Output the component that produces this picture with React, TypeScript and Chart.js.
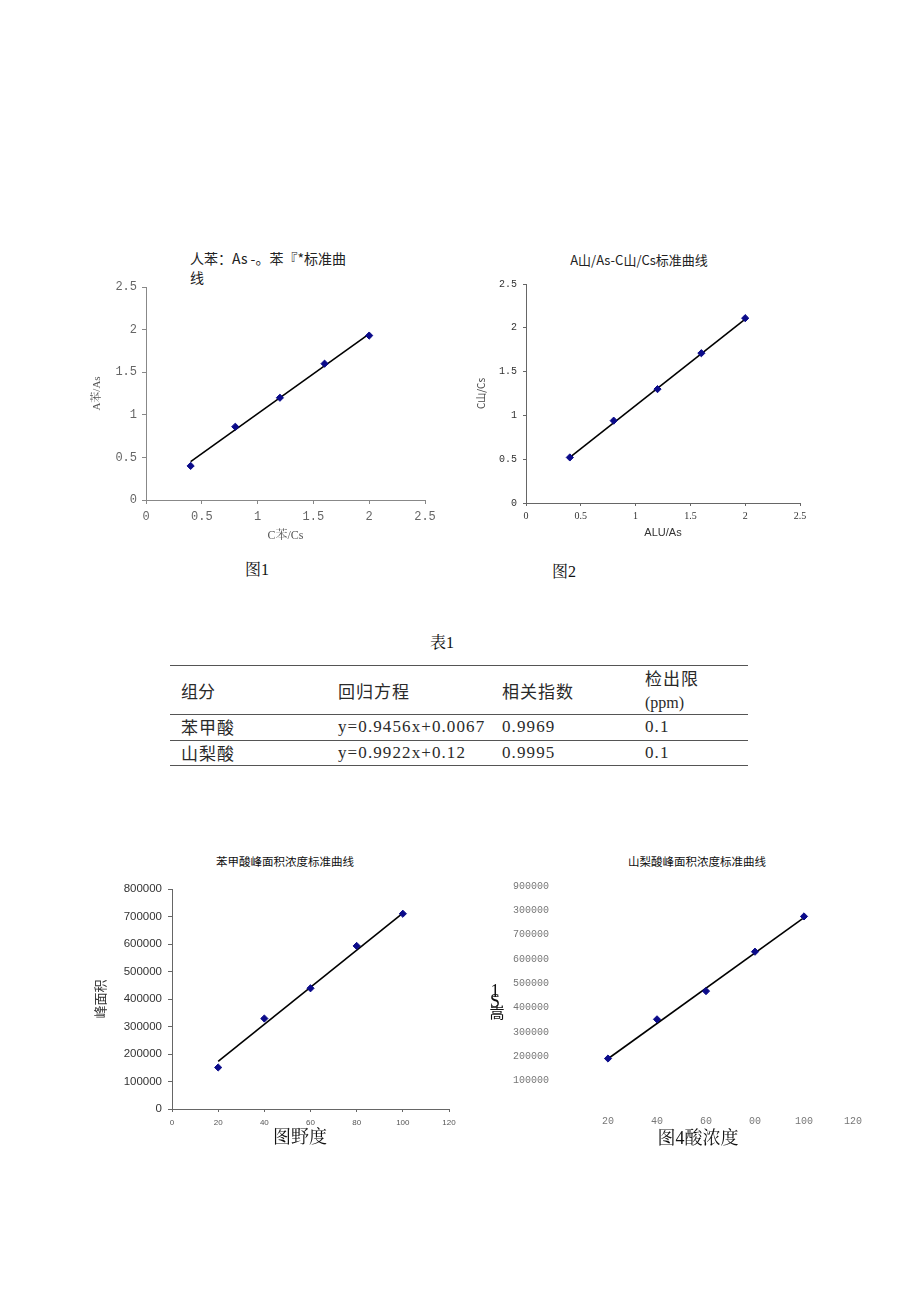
import React, { useEffect, useRef } from "react";
import { Chart, registerables } from "chart.js";

Chart.register(...registerables);

// ---------- Figure 1 (苯甲酸 内标) ----------
const fig1X = [0.4, 0.8, 1.2, 1.6, 2.0];
const fig1Y = [0.4, 0.86, 1.2, 1.6, 1.93];
const fig1FitX = [0.4, 2.0];
const fig1FitY = [0.45, 1.95];
const fig1XTicks = ["0", "0.5", "1", "1.5", "2", "2.5"];
const fig1YTicks = ["0", "0.5", "1", "1.5", "2", "2.5"];

// ---------- Figure 2 (山梨酸 内标) ----------
const fig2X = [0.4, 0.8, 1.2, 1.6, 2.0];
const fig2Y = [0.52, 0.94, 1.3, 1.71, 2.11];
const fig2FitX = [0.4, 2.0];
const fig2FitY = [0.52, 2.1];
const fig2XTicks = ["0", "0.5", "1", "1.5", "2", "2.5"];
const fig2YTicks = ["0", "0.5", "1", "1.5", "2", "2.5"];

// ---------- Figure 3 (苯甲酸 峰面积) ----------
const fig3X = [20, 40, 60, 80, 100];
const fig3Y = [151000, 329000, 439000, 593000, 710000];
const fig3FitX = [20, 100];
const fig3FitY = [173000, 712000];
const fig3XTicks = ["0", "20", "40", "60", "80", "100", "120"];
const fig3YTicks = ["0", "100000", "200000", "300000", "400000", "500000", "600000", "700000", "800000"];

// ---------- Figure 4 (山梨酸 峰面积) ----------
const fig4X = [20, 40, 60, 80, 100];
const fig4Y = [191000, 352000, 468000, 630000, 775000];
const fig4FitX = [20, 100];
const fig4FitY = [190000, 770000];
const fig4XTicks = ["", "20", "40", "60", "00", "100", "120"];
const fig4YTicks = ["", "100000", "200000", "300000", "400000", "500000", "600000", "700000", "300000", "900000"];

// ---------- Table 1 ----------
const tableHeader = ["组分", "回归方程", "相关指数", "检出限\n(ppm)"];
const tableRowNames = ["苯甲酸", "山梨酸"];
const tableEquations = ["y=0.9456x+0.0067", "y=0.9922x+0.12"];
const tableR = ["0.9969", "0.9995"];
const tableLimits = ["0.1", "0.1"];

const CJK_SANS = '"Noto Sans CJK SC", "Liberation Sans", sans-serif';
const SERIF = '"Liberation Serif", "Noto Serif CJK SC", "Noto Sans CJK SC", serif';

type AxisSpec = {
  min: number;
  max: number;
  step: number;
  labels: string[];
  family: string;
  size: number;
  color: string;
  line: boolean;
  lineColor: string;
  tickLen: number;
  pad: number;
  title?: string;
  titleFamily?: string;
  titleSize?: number;
  titleColor?: string;
  titlePad?: number;
};

type PanelProps = {
  left: number;
  top: number;
  width: number;
  height: number;
  padTop: number;
  padRight: number;
  yWidth: number;
  xHeight: number;
  xs: number[];
  ys: number[];
  fitX: number[];
  fitY: number[];
  xAxis: AxisSpec;
  yAxis: AxisSpec;
};

function axisOptions(a: AxisSpec, horizontal: boolean, size: number) {
  return {
    type: "linear" as const,
    position: horizontal ? ("bottom" as const) : ("left" as const),
    min: a.min,
    max: a.max,
    ticks: {
      stepSize: a.step,
      autoSkip: false,
      maxRotation: 0,
      minRotation: 0,
      padding: a.pad,
      color: a.color,
      font: { family: a.family, size: a.size },
      callback: (_v: any, i: number) => (a.labels[i] !== undefined ? a.labels[i] : ""),
    },
    grid: {
      display: a.line,
      drawOnChartArea: false,
      drawTicks: a.tickLen > 0,
      tickLength: a.tickLen,
      color: a.lineColor,
      lineWidth: 1,
    },
    border: { display: a.line, color: a.lineColor, width: 1 },
    title: a.title
      ? {
          display: true,
          text: a.title,
          color: a.titleColor || "#333",
          font: { family: a.titleFamily || CJK_SANS, size: a.titleSize || 11 },
          padding: { top: a.titlePad || 0, bottom: a.titlePad || 0 },
        }
      : { display: false },
    afterFit: (s: any) => {
      if (horizontal) s.height = size;
      else s.width = size;
    },
  };
}

function Panel(p: PanelProps) {
  const ref = useRef<HTMLCanvasElement | null>(null);
  useEffect(() => {
    if (!ref.current) return;
    const chart = new Chart(ref.current, {
      type: "scatter",
      data: {
        datasets: [
          {
            type: "line",
            data: p.fitX.map((v, i) => ({ x: v, y: p.fitY[i] })),
            borderColor: "#000000",
            borderWidth: 1.6,
            pointRadius: 0,
            fill: false,
            tension: 0,
            order: 2,
          } as any,
          {
            type: "scatter",
            data: p.xs.map((v, i) => ({ x: v, y: p.ys[i] })),
            pointStyle: "rectRot",
            pointRadius: 3.6,
            backgroundColor: "#0b0b8a",
            borderColor: "#0b0b8a",
            borderWidth: 1,
            order: 1,
          } as any,
        ],
      },
      options: {
        responsive: false,
        maintainAspectRatio: false,
        animation: false,
        layout: { padding: { left: 0, top: p.padTop, right: p.padRight, bottom: 0 } },
        plugins: { legend: { display: false }, tooltip: { enabled: false }, title: { display: false } },
        scales: {
          x: axisOptions(p.xAxis, true, p.xHeight) as any,
          y: axisOptions(p.yAxis, false, p.yWidth) as any,
        },
      },
    });
    return () => chart.destroy();
  }, []);
  return (
    <canvas
      ref={ref}
      width={p.width}
      height={p.height}
      style={{ position: "absolute", left: p.left, top: p.top, width: p.width, height: p.height }}
    />
  );
}

type LabelProps = {
  x: number;
  y: number;
  text: string;
  size: number;
  family?: string;
  color?: string;
  align?: "left" | "center";
  weight?: number;
  spacing?: number;
};

function Label({ x, y, text, size, family = SERIF, color = "#111", align = "left", weight = 400, spacing = 0 }: LabelProps) {
  return (
    <div
      style={{
        position: "absolute",
        left: x,
        top: y - size * 0.6,
        fontSize: size,
        lineHeight: 1.2,
        fontFamily: family,
        color,
        fontWeight: weight,
        letterSpacing: spacing,
        whiteSpace: "nowrap",
        transform: align === "center" ? "translateX(-50%)" : undefined,
      }}
    >
      {text}
    </div>
  );
}

function HLine({ y }: { y: number }) {
  return <div style={{ position: "absolute", left: 170, top: y, width: 578, height: 1, background: "#555" }} />;
}

export default function App() {
  const colX = [181, 338, 502, 645];
  const rowY = [727, 753];
  const tc = "#2a2a2a";
  return (
    <div style={{ position: "absolute", left: 0, top: 0, width: 920, height: 1302, background: "#fff", overflow: "hidden" }}>
      {/* Figure 1 */}
      <Label x={190} y={258} text="人苯：As -。苯『*标准曲" size={14} family={CJK_SANS} color="#222" />
      <Label x={190} y={277} text="线" size={14} family={CJK_SANS} color="#222" />
      <Panel
        left={85}
        top={270}
        width={360}
        height={278}
        padTop={17}
        padRight={20}
        yWidth={61}
        xHeight={48}
        xs={fig1X}
        ys={fig1Y}
        fitX={fig1FitX}
        fitY={fig1FitY}
        xAxis={{
          min: 0, max: 2.5, step: 0.5, labels: fig1XTicks,
          family: '"Liberation Mono", monospace', size: 12, color: "#666",
          line: true, lineColor: "#888", tickLen: 4, pad: 6,
          title: "C苯/Cs", titleFamily: SERIF, titleSize: 12, titleColor: "#555", titlePad: 4.8,
        }}
        yAxis={{
          min: 0, max: 2.5, step: 0.5, labels: fig1YTicks,
          family: '"Liberation Mono", monospace', size: 12, color: "#666",
          line: true, lineColor: "#888", tickLen: 4, pad: 5,
          title: "A苯/As", titleFamily: SERIF, titleSize: 11, titleColor: "#555", titlePad: 5.4,
        }}
      />
      <Label x={245} y={570} text="图1" size={16} />

      {/* Figure 2 */}
      <Label x={639} y={260} text="A山/As-C山/Cs标准曲线" size={13} family={CJK_SANS} color="#222" align="center" />
      <Panel
        left={470}
        top={265}
        width={350}
        height={278}
        padTop={19}
        padRight={20}
        yWidth={56}
        xHeight={40}
        xs={fig2X}
        ys={fig2Y}
        fitX={fig2FitX}
        fitY={fig2FitY}
        xAxis={{
          min: 0, max: 2.5, step: 0.5, labels: fig2XTicks,
          family: '"Liberation Serif", serif', size: 10, color: "#333",
          line: true, lineColor: "#666", tickLen: 3, pad: 4,
          title: "ALU/As", titleFamily: '"Liberation Sans", sans-serif', titleSize: 11, titleColor: "#333", titlePad: 3.4,
        }}
        yAxis={{
          min: 0, max: 2.5, step: 0.5, labels: fig2YTicks,
          family: '"Liberation Mono", monospace', size: 10, color: "#333",
          line: true, lineColor: "#666", tickLen: 3, pad: 6,
          title: "C山/Cs", titleFamily: CJK_SANS, titleSize: 10, titleColor: "#444", titlePad: 5,
        }}
      />
      <Label x={552} y={572} text="图2" size={16} />

      {/* Table 1 */}
      <Label x={442} y={643} text="表1" size={16} align="center" />
      <HLine y={665} />
      <Label x={colX[0]} y={691} text={tableHeader[0]} size={17} family={CJK_SANS} color={tc} />
      <Label x={colX[1]} y={691} text={tableHeader[1]} size={17} family={CJK_SANS} color={tc} spacing={1} />
      <Label x={colX[2]} y={691} text={tableHeader[2]} size={17} family={CJK_SANS} color={tc} spacing={1} />
      <Label x={colX[3]} y={678} text={tableHeader[3].split("\n")[0]} size={17} family={CJK_SANS} color={tc} spacing={1} />
      <Label x={colX[3]} y={703} text={tableHeader[3].split("\n")[1]} size={16} family={SERIF} color={tc} />
      <HLine y={714} />
      {tableRowNames.map((name, i) => (
        <React.Fragment key={name}>
          <Label x={colX[0]} y={rowY[i]} text={name} size={17} family={CJK_SANS} color={tc} spacing={1} />
          <Label x={colX[1]} y={rowY[i]} text={tableEquations[i]} size={17} color={tc} spacing={1.1} />
          <Label x={colX[2]} y={rowY[i]} text={tableR[i]} size={17} color={tc} spacing={1.1} />
          <Label x={colX[3]} y={rowY[i]} text={tableLimits[i]} size={17} color={tc} spacing={1.1} />
        </React.Fragment>
      ))}
      <HLine y={740} />
      <HLine y={765} />

      {/* Figure 3 */}
      <Label x={285} y={862} text="苯甲酸峰面积浓度标准曲线" size={11.5} family={CJK_SANS} color="#111" align="center" />
      <Panel
        left={85}
        top={870}
        width={385}
        height={281}
        padTop={19}
        padRight={21}
        yWidth={87}
        xHeight={42}
        xs={fig3X}
        ys={fig3Y}
        fitX={fig3FitX}
        fitY={fig3FitY}
        xAxis={{
          min: 0, max: 120, step: 20, labels: fig3XTicks,
          family: '"Liberation Sans", sans-serif', size: 8, color: "#555",
          line: true, lineColor: "#666", tickLen: 3, pad: 6,
        }}
        yAxis={{
          min: 0, max: 800000, step: 100000, labels: fig3YTicks,
          family: '"Liberation Sans", sans-serif', size: 11.5, color: "#333",
          line: true, lineColor: "#666", tickLen: 4, pad: 6,
          title: "峰面积", titleFamily: CJK_SANS, titleSize: 13, titleColor: "#333", titlePad: 7.2,
        }}
      />
      <Label x={300} y={1138} text="图野度" size={18} color="#111" align="center" />

      {/* Figure 4 */}
      <Label x={697} y={862} text="山梨酸峰面积浓度标准曲线" size={11.5} family={CJK_SANS} color="#111" align="center" />
      <Panel
        left={490}
        top={870}
        width={385}
        height={265}
        padTop={15}
        padRight={22}
        yWidth={69}
        xHeight={30}
        xs={fig4X}
        ys={fig4Y}
        fitX={fig4FitX}
        fitY={fig4FitY}
        xAxis={{
          min: 0, max: 120, step: 20, labels: fig4XTicks,
          family: '"Liberation Mono", monospace', size: 10, color: "#777",
          line: false, lineColor: "#777", tickLen: 0, pad: 10,
        }}
        yAxis={{
          min: 0, max: 900000, step: 100000, labels: fig4YTicks,
          family: '"Liberation Mono", monospace', size: 10, color: "#777",
          line: false, lineColor: "#777", tickLen: 0, pad: 10,
        }}
      />
      <Label x={495} y={992} text="1" size={18} color="#111" align="center" />
      <Label x={495} y={1002} text="S" size={18} color="#111" align="center" />
      <Label x={497} y={1012} text="嵩" size={15} family={CJK_SANS} color="#111" align="center" />
      <Label x={698} y={1139} text="图4酸浓度" size={18} color="#111" align="center" />
    </div>
  );
}
